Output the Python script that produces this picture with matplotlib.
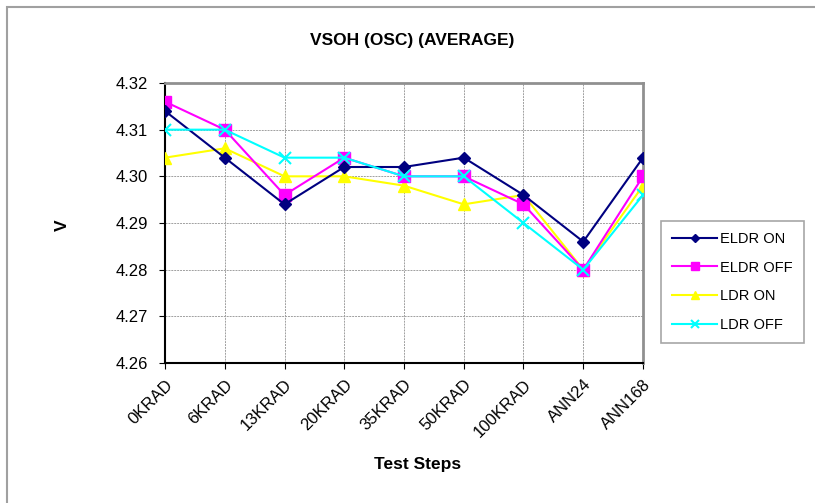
import matplotlib
matplotlib.use("Agg")
import matplotlib.pyplot as plt
from matplotlib.patches import Rectangle

plt.rcParams['font.family'] = ['Liberation Sans', 'DejaVu Sans']

categories = ["0KRAD", "6KRAD", "13KRAD", "20KRAD", "35KRAD", "50KRAD", "100KRAD", "ANN24", "ANN168"]
eldr_on = [4.314, 4.304, 4.294, 4.302, 4.302, 4.304, 4.296, 4.286, 4.304]
eldr_off = [4.316, 4.310, 4.296, 4.304, 4.300, 4.300, 4.294, 4.280, 4.300]
ldr_on = [4.304, 4.306, 4.300, 4.300, 4.298, 4.294, 4.296, 4.280, 4.298]
ldr_off = [4.310, 4.310, 4.304, 4.304, 4.300, 4.300, 4.290, 4.280, 4.296]
yticks = [4.26, 4.27, 4.28, 4.29, 4.30, 4.31, 4.32]

fig = plt.figure(figsize=(8.15, 5.03), dpi=100)
# outer frame (only top and left edges visible)
fig.patches.append(Rectangle((7/815, -0.05), 1.2, 1 - 7/503 + 0.05, transform=fig.transFigure,
                             fill=False, edgecolor='#a0a0a0', linewidth=1.5))

ax = fig.add_axes([165/815, 1 - 363/503, (643 - 165)/815, (363 - 83)/503])
x = list(range(len(categories)))
ax.plot(x, eldr_on, color='#000080', marker='D', markersize=6, linewidth=1.5, label='ELDR ON', zorder=5)
ax.plot(x, eldr_off, color='#ff00ff', marker='s', markersize=8, linewidth=1.5, label='ELDR OFF', zorder=4)
ax.plot(x, ldr_on, color='#ffff00', marker='^', markersize=8, linewidth=1.5, label='LDR ON', zorder=3)
ax.plot(x, ldr_off, color='#00ffff', marker='x', markersize=8, markeredgewidth=1.5, linewidth=1.5, label='LDR OFF', zorder=6)

ax.set_xlim(0, len(categories) - 1)
ax.set_ylim(4.26, 4.32)
ax.set_yticks(yticks)
ax.set_yticklabels([f"{v:.2f}" for v in yticks], fontsize=12)
ax.set_xticks(x)
ax.set_xticklabels(categories, rotation=45, ha='right', rotation_mode='anchor', fontsize=12)
ax.grid(True, color='#a0a0a0', linestyle=(0, (2, 1)), linewidth=0.7)
ax.set_axisbelow(True)
for s in ['top', 'right']:
    ax.spines[s].set_color('#909090')
    ax.spines[s].set_linewidth(2)
for s in ['left', 'bottom']:
    ax.spines[s].set_color('black')
    ax.spines[s].set_linewidth(1.5)
ax.tick_params(axis='both', direction='out', length=4, color='black', pad=6)
ax.tick_params(axis='y', pad=8)

fig.text(412/815, 1 - 40/503, "VSOH (OSC) (AVERAGE)", ha='center', va='center', fontsize=12.5, fontweight='bold')
fig.text(62/815, 1 - 225/503, "V", ha='center', va='center', fontsize=12.5, fontweight='bold', rotation=90)
fig.text(418/815, 1 - 464/503, "Test Steps", ha='center', va='center', fontsize=12.5, fontweight='bold')

leg = ax.legend(loc='upper left', bbox_to_anchor=(661/815, 1 - 221/503), bbox_transform=fig.transFigure,
                frameon=True, fancybox=False, edgecolor='#909090', fontsize=10.5,
                labelspacing=1.0, handlelength=3.1, handletextpad=0.2, markerscale=0.7,
                borderpad=0.75, borderaxespad=0)
leg.get_frame().set_linewidth(1.2)

fig.savefig("out.png", dpi=100)
